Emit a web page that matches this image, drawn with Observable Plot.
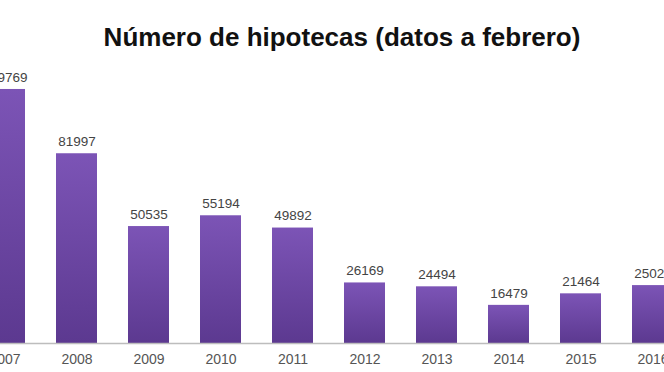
<!DOCTYPE html>
<html>
<head>
<meta charset="utf-8">
<script src="https://cdn.jsdelivr.net/npm/d3@7"></script>
<script src="https://cdn.jsdelivr.net/npm/@observablehq/plot@0.6"></script>
<style>
  html, body { margin: 0; padding: 0; background: #fff; overflow: hidden; }
  body { width: 664px; height: 372px; position: relative; font-family: "Liberation Sans", Arial, sans-serif; }
  #title { position: absolute; left: 0; top: 22px; width: 684px; text-align: center; font-weight: bold; font-size: 26px; color: #111; line-height: 30px; }
  #chart { position: absolute; left: -60px; top: 60px; width: 800px; }
  #chart svg { max-width: none !important; }
</style>
</head>
<body>
<div id="title">Número de hipotecas (datos a febrero)</div>
<div id="chart"></div>
<script>
const years = ["2007","2008","2009","2010","2011","2012","2013","2014","2015","2016"];
const values = [109769, 81997, 50535, 55194, 49892, 26169, 24494, 16479, 21464, 25025];

const data = years.map((y, i) => ({year: y, value: values[i]}));

const W = 800;
const plot = Plot.plot({
  width: W,
  height: 312,
  marginLeft: 26.8,
  marginRight: W - 750.2,
  marginTop: 5.3,
  marginBottom: 29,
  style: {fontFamily: "Liberation Sans, Arial, sans-serif", background: "#fff", maxWidth: "none"},
  x: {domain: years, paddingInner: 0.43, paddingOuter: 0.215, label: null},
  y: {domain: [0, 120000], axis: null},
  marks: [
    Plot.barY(data, {x: "year", y: "value", fill: "url(#barGrad)"}),
    Plot.ruleY([0], {stroke: "#bdbdbd", strokeWidth: 1.5}),
    Plot.text(data, {x: "year", y: "value", text: d => String(d.value), dy: -12, fill: "#444", fontSize: 13.5}),
    Plot.axisX({tickSize: 0, tickPadding: 11, fontSize: 14, color: "#555", label: null})
  ]
});

const svg = d3.select(plot);
const defs = svg.insert("defs", ":first-child");
const g = defs.append("linearGradient").attr("id", "barGrad").attr("x1", 0).attr("y1", 0).attr("x2", 0).attr("y2", 1);
g.append("stop").attr("offset", "0%").attr("stop-color", "#7c54b6");
g.append("stop").attr("offset", "100%").attr("stop-color", "#5c3990");

document.getElementById("chart").appendChild(plot);
</script>
</body>
</html>
